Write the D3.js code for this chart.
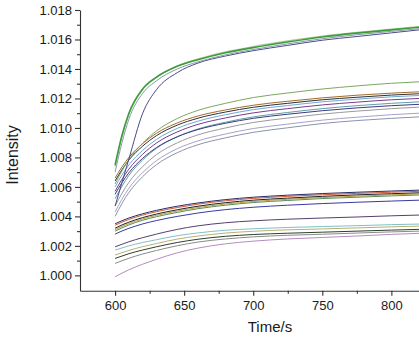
<!DOCTYPE html>
<html>
<head>
<meta charset="utf-8">
<script src="https://cdn.jsdelivr.net/npm/d3@7/dist/d3.min.js"></script>
<style>
  html, body { margin: 0; padding: 0; background: #fff; }
  svg { display: block; }
  text { font-family: "Liberation Sans", Arial, sans-serif; fill: #1a1a1a; }
</style>
</head>
<body>
<svg id="chart" width="419" height="340"></svg>
<script>
// Sampling times (s) shared by every trace
const times = [600, 605, 610, 620, 630, 645, 660, 680, 700, 725, 750, 775, 800, 820];

// Upper family
const up1 = [1.00748, 1.00950, 1.01100, 1.01265, 1.01345, 1.01418, 1.01463, 1.01510, 1.01545, 1.01583, 1.01617, 1.01643, 1.01665, 1.01683];
const up2 = [1.00740, 1.00940, 1.01092, 1.01260, 1.01342, 1.01420, 1.01468, 1.01516, 1.01552, 1.01590, 1.01623, 1.01648, 1.01670, 1.01688];
const up3 = [1.00700, 1.00900, 1.01060, 1.01235, 1.01320, 1.01400, 1.01448, 1.01496, 1.01532, 1.01570, 1.01605, 1.01632, 1.01655, 1.01673];
const up4 = [1.00470, 1.00630, 1.00790, 1.01100, 1.01260, 1.01375, 1.01440, 1.01488, 1.01524, 1.01560, 1.01595, 1.01620, 1.01645, 1.01665];

// Second family
const hi1 = [1.00620, 1.00710, 1.00786, 1.00897, 1.00980, 1.01064, 1.01119, 1.01167, 1.01206, 1.01237, 1.01264, 1.01285, 1.01303, 1.01313];
const hi2 = [1.00660, 1.00736, 1.00800, 1.00894, 1.00964, 1.01034, 1.01081, 1.01122, 1.01154, 1.01181, 1.01204, 1.01222, 1.01236, 1.01245];
const hi3 = [1.00640, 1.00717, 1.00782, 1.00877, 1.00948, 1.01019, 1.01066, 1.01108, 1.01140, 1.01167, 1.01191, 1.01208, 1.01223, 1.01232];
const hi4 = [1.00600, 1.00681, 1.00749, 1.00848, 1.00922, 1.00997, 1.01046, 1.01090, 1.01124, 1.01152, 1.01177, 1.01195, 1.01211, 1.01220];
const hi5 = [1.00570, 1.00652, 1.00721, 1.00822, 1.00898, 1.00973, 1.01024, 1.01068, 1.01102, 1.01131, 1.01156, 1.01175, 1.01191, 1.01200];
const hi6 = [1.00520, 1.00605, 1.00678, 1.00783, 1.00862, 1.00940, 1.00993, 1.01039, 1.01075, 1.01105, 1.01131, 1.01151, 1.01167, 1.01177];
const hi7 = [1.00470, 1.00557, 1.00631, 1.00738, 1.00819, 1.00899, 1.00953, 1.01000, 1.01037, 1.01067, 1.01094, 1.01114, 1.01131, 1.01141];
const hi8 = [1.00430, 1.00517, 1.00591, 1.00698, 1.00778, 1.00859, 1.00912, 1.00959, 1.00996, 1.01026, 1.01053, 1.01073, 1.01090, 1.01100];
const hi9 = [1.00400, 1.00488, 1.00562, 1.00670, 1.00751, 1.00832, 1.00886, 1.00933, 1.00970, 1.01001, 1.01030, 1.01050, 1.01065, 1.01075];
const hi10 = [1.00550, 1.00629, 1.00696, 1.00794, 1.00867, 1.00940, 1.00989, 1.01032, 1.01065, 1.01093, 1.01117, 1.01136, 1.01151, 1.01160];

// Third family
const lo1 = [1.00350, 1.00371, 1.00389, 1.00418, 1.00441, 1.00469, 1.00491, 1.00514, 1.00530, 1.00544, 1.00555, 1.00564, 1.00572, 1.00578];
const lo2 = [1.00340, 1.00361, 1.00379, 1.00409, 1.00432, 1.00460, 1.00483, 1.00506, 1.00522, 1.00536, 1.00547, 1.00556, 1.00564, 1.00570];
const lo3 = [1.00320, 1.00342, 1.00361, 1.00392, 1.00416, 1.00445, 1.00469, 1.00493, 1.00510, 1.00524, 1.00536, 1.00546, 1.00554, 1.00560];
const lo4 = [1.00310, 1.00332, 1.00351, 1.00383, 1.00407, 1.00436, 1.00460, 1.00484, 1.00501, 1.00516, 1.00528, 1.00537, 1.00546, 1.00552];
const lo5 = [1.00300, 1.00322, 1.00342, 1.00374, 1.00398, 1.00427, 1.00452, 1.00476, 1.00494, 1.00508, 1.00521, 1.00530, 1.00539, 1.00545];
const lo6 = [1.00280, 1.00301, 1.00319, 1.00349, 1.00372, 1.00400, 1.00423, 1.00446, 1.00462, 1.00476, 1.00487, 1.00496, 1.00504, 1.00510];

// Lowest family
const bt1 = [1.00194, 1.00211, 1.00228, 1.00256, 1.00280, 1.00312, 1.00336, 1.00357, 1.00370, 1.00381, 1.00389, 1.00396, 1.00404, 1.00409];
const bt2 = [1.00172, 1.00186, 1.00200, 1.00223, 1.00242, 1.00269, 1.00288, 1.00306, 1.00316, 1.00325, 1.00331, 1.00337, 1.00344, 1.00348];
const bt3 = [1.00138, 1.00154, 1.00169, 1.00195, 1.00216, 1.00246, 1.00267, 1.00287, 1.00299, 1.00309, 1.00315, 1.00322, 1.00329, 1.00334];
const bt4 = [1.00115, 1.00131, 1.00147, 1.00172, 1.00194, 1.00223, 1.00245, 1.00265, 1.00277, 1.00286, 1.00293, 1.00300, 1.00307, 1.00312];
const bt5 = [1.00081, 1.00099, 1.00116, 1.00145, 1.00169, 1.00201, 1.00226, 1.00247, 1.00261, 1.00272, 1.00279, 1.00287, 1.00295, 1.00300];
const bt6 = [0.99991, 1.00015, 1.00038, 1.00076, 1.00109, 1.00153, 1.00185, 1.00214, 1.00232, 1.00247, 1.00257, 1.00267, 1.00278, 1.00285];

// Axis ticks
const yTicks = [1.000, 1.002, 1.004, 1.006, 1.008, 1.010, 1.012, 1.014, 1.016, 1.018];
const yMinor = [1.001, 1.003, 1.005, 1.007, 1.009, 1.011, 1.013, 1.015, 1.017];
const xTicks = [600, 650, 700, 750, 800];
const xMinor = [625, 675, 725, 775];

// Traces in drawing order, each with its stroke style
const traces = [
  { v: bt6, c: "#b58cc0", w: 1 },
  { v: bt5, c: "#8a8a8a", w: 1 },
  { v: bt4, c: "#2f3f2f", w: 1 },
  { v: bt3, c: "#b8b070", w: 1 },
  { v: bt2, c: "#7fc0c8", w: 1 },
  { v: bt1, c: "#55406e", w: 1 },
  { v: lo6, c: "#3a3aa0", w: 1 },
  { v: lo5, c: "#5a8a5a", w: 1 },
  { v: lo4, c: "#b0a040", w: 1 },
  { v: lo3, c: "#202020", w: 1 },
  { v: lo2, c: "#d05a3a", w: 1 },
  { v: lo1, c: "#2a2a6a", w: 1 },
  { v: hi9, c: "#8a94a8", w: 1 },
  { v: hi8, c: "#a8a0c8", w: 1 },
  { v: hi7, c: "#9a9a9a", w: 1 },
  { v: hi6, c: "#5f9ea8", w: 1 },
  { v: hi10, c: "#3a3a80", w: 1 },
  { v: hi5, c: "#7a3a8a", w: 1 },
  { v: hi4, c: "#6aa8d8", w: 1 },
  { v: hi3, c: "#303030", w: 1 },
  { v: hi2, c: "#a06a2a", w: 1 },
  { v: hi1, c: "#7aa860", w: 1 },
  { v: up4, c: "#4a4a8a", w: 1 },
  { v: up3, c: "#8a98a8", w: 1 },
  { v: up2, c: "#a8cc98", w: 1.2 },
  { v: up1, c: "#3c9c3c", w: 1.6 }
];

const svg = d3.select("#chart");
const plotLeft = 80, plotRight = 419, plotTop = 10, plotBottom = 290.7;

const x = d3.scaleLinear().domain([574.6, 820]).range([plotLeft, plotRight]);
const y = d3.scaleLinear().domain([0.99896, 1.018]).range([plotBottom, plotTop]);

svg.append("defs").append("clipPath").attr("id", "plot")
  .append("rect").attr("x", plotLeft).attr("y", 0)
  .attr("width", plotRight - plotLeft).attr("height", plotBottom);

const line = d3.line()
  .x((d, i) => x(times[i]))
  .y(d => y(d))
  .curve(d3.curveMonotoneX);

svg.append("g").attr("clip-path", "url(#plot)")
  .selectAll("path").data(traces).join("path")
  .attr("d", t => line(t.v))
  .attr("fill", "none")
  .attr("stroke", t => t.c)
  .attr("stroke-width", t => t.w)
  .attr("stroke-linejoin", "round");

// Left axis
svg.append("g").attr("transform", `translate(${plotLeft},0)`)
  .call(d3.axisLeft(y).tickValues(yTicks).tickFormat(d3.format(".3f")).tickSize(5).tickSizeOuter(0).tickPadding(3));
svg.append("g").attr("transform", `translate(${plotLeft},0)`)
  .call(d3.axisLeft(y).tickValues(yMinor).tickFormat("").tickSize(3).tickSizeOuter(0))
  .select(".domain").remove();

// Bottom axis
svg.append("g").attr("transform", `translate(0,${plotBottom})`)
  .call(d3.axisBottom(x).tickValues(xTicks).tickFormat(d3.format("d")).tickSize(5).tickSizeOuter(0).tickPadding(5));
svg.append("g").attr("transform", `translate(0,${plotBottom})`)
  .call(d3.axisBottom(x).tickValues(xMinor).tickFormat("").tickSize(3).tickSizeOuter(0))
  .select(".domain").remove();

svg.selectAll(".domain, .tick line").attr("stroke", "#333").attr("stroke-width", 1.1);
svg.selectAll(".tick text").attr("font-size", 13).attr("fill", "#1a1a1a")
  .attr("font-family", '"Liberation Sans", Arial, sans-serif');

// Axis titles
svg.append("text")
  .attr("x", 270).attr("y", 332)
  .attr("text-anchor", "middle").attr("font-size", 15)
  .text("Time/s");

svg.append("text")
  .attr("transform", "translate(18,155) rotate(-90)")
  .attr("text-anchor", "middle").attr("font-size", 16)
  .text("Intensity");
</script>
</body>
</html>
